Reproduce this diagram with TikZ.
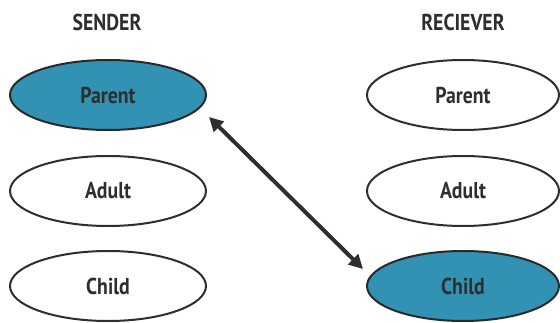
\documentclass[tikz,border=0pt]{standalone}
\usepackage{fontspec}
\setmainfont[FakeStretch=0.86]{PT Sans}
\usetikzlibrary{arrows.meta,shapes.geometric}
\definecolor{teal}{HTML}{3192B4}
\definecolor{ink}{HTML}{2E2E2E}
\tikzset{
  state/.style={ellipse, draw=ink, line width=2pt, minimum width=196pt, minimum height=70pt, inner sep=0pt, text=ink, font=\bfseries\fontsize{23}{26}\selectfont},
  active/.style={state, fill=teal, draw=ink!90!black},
  header/.style={text=ink, font=\bfseries\fontsize{23}{26}\selectfont},
  link/.style={ink, line width=4pt, {Triangle[length=14pt,width=14pt]}-{Triangle[length=14pt,width=14pt]}}
}
\begin{document}
\begin{tikzpicture}[x=1pt,y=1pt]
\useasboundingbox (0,0) rectangle (560,322);
\node[header] (hs) at (107,300) {SENDER};
\node[header] (hr) at (463,300) {RECIEVER};
\node[active] (sp) at (108,227) {Parent};
\node[state]  (sa) at (108,131) {Adult};
\node[state]  (sc) at (108,36)  {Child};
\node[state, minimum width=192pt]  (rp) at (463,227) {Parent};
\node[state, minimum width=192pt]  (ra) at (463,131) {Adult};
\node[active, minimum width=192pt] (rc) at (463,36)  {Child};
\coordinate (a) at ([shift={(2,-22)}]sp.east);
\coordinate (b) at ([shift={(-3,17)}]rc.west);
\draw[link] (a) -- (b);
\end{tikzpicture}
\end{document}
